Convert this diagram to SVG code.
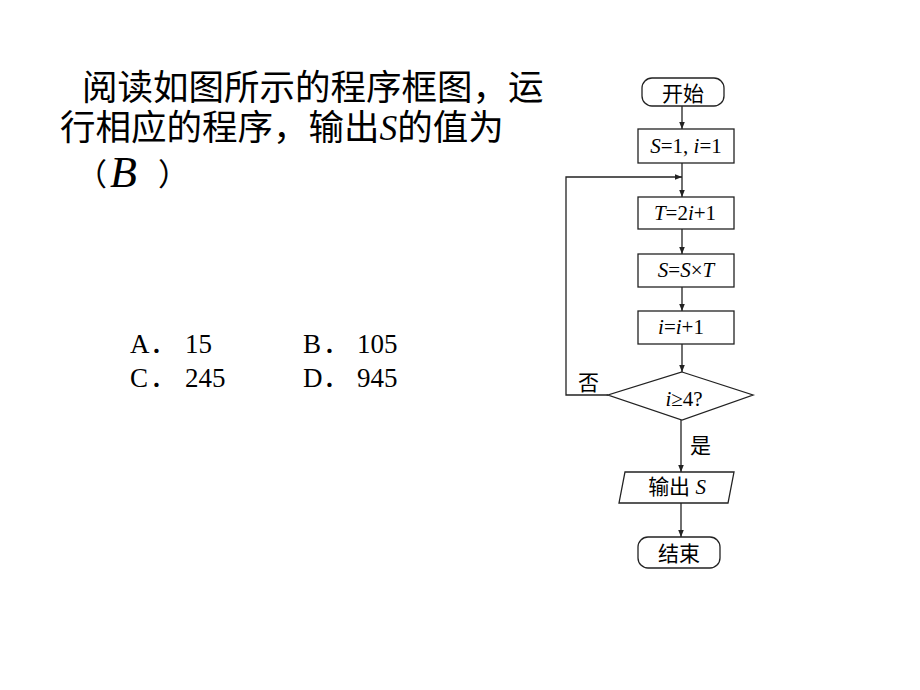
<svg xmlns="http://www.w3.org/2000/svg" width="920" height="690" viewBox="0 0 920 690">
<style>
.t{font-family:"Liberation Serif","Noto Sans CJK SC",serif;fill:#000}
.q{font-size:35.5px}
.o{font-size:27px}
.f{font-size:21px;text-anchor:middle}
.box{fill:#fff;stroke:#222;stroke-width:1.3}
.ln{fill:none;stroke:#222;stroke-width:1.3}
</style>
<defs>
<marker id="ah" viewBox="0 0 10 10" refX="10" refY="5" markerWidth="7" markerHeight="7" markerUnits="userSpaceOnUse" orient="auto">
<path d="M0,1 L10,5 L0,9 Z" fill="#222"/>
</marker>
</defs>
<rect width="920" height="690" fill="#fff"/>
<g id="question">
<text class="t q" x="82" y="100">阅读如图所示的程序框图，运</text>
<text class="t q" x="60" y="140">行相应的程序，输出<tspan font-style="italic">S</tspan>的值为</text>
<text class="t" x="76" y="185" font-size="31">（</text>
<text class="t" x="110" y="187" font-size="44" font-style="italic">B</text>
<text class="t" x="158" y="185" font-size="31">）</text>
</g>
<g id="options">
<text class="t o" x="130" y="353">A<tspan x="150">．</tspan><tspan x="185">15</tspan></text>
<text class="t o" x="303" y="353">B<tspan x="323">．</tspan><tspan x="357">105</tspan></text>
<text class="t o" x="130" y="387">C<tspan x="150">．</tspan><tspan x="185">245</tspan></text>
<text class="t o" x="303" y="387">D<tspan x="323">．</tspan><tspan x="357">945</tspan></text>
</g>
<g id="connectors">
<line class="ln" x1="682" y1="106" x2="682" y2="129" marker-end="url(#ah)"/>
<line class="ln" x1="682" y1="163" x2="682" y2="197" marker-end="url(#ah)"/>
<polyline class="ln" points="608,395 566,395 566,177 682,177" marker-end="url(#ah)"/>
<line class="ln" x1="682" y1="229" x2="682" y2="254" marker-end="url(#ah)"/>
<line class="ln" x1="682" y1="287" x2="682" y2="311" marker-end="url(#ah)"/>
<line class="ln" x1="682" y1="344" x2="682" y2="372" marker-end="url(#ah)"/>
<line class="ln" x1="681" y1="420" x2="681" y2="472" marker-end="url(#ah)"/>
<line class="ln" x1="681" y1="503" x2="681" y2="537" marker-end="url(#ah)"/>
<text class="t" x="578" y="390" font-size="21">否</text>
<text class="t" x="690" y="453" font-size="21">是</text>
</g>
<g id="start">
<rect class="box" x="642" y="78" width="82" height="28" rx="10"/>
<text class="t f" x="683" y="101">开始</text>
</g>
<g id="init">
<rect class="box" x="638" y="129" width="96" height="34"/>
<text class="t f" x="686" y="153"><tspan font-style="italic">S</tspan>=1, <tspan font-style="italic">i</tspan>=1</text>
</g>
<g id="calcT">
<rect class="box" x="638" y="197" width="96" height="32"/>
<text class="t f" x="685" y="220"><tspan font-style="italic">T</tspan>=2<tspan font-style="italic">i</tspan>+1</text>
</g>
<g id="calcS">
<rect class="box" x="638" y="254" width="96" height="33"/>
<text class="t f" x="686" y="277"><tspan font-style="italic">S</tspan>=<tspan font-style="italic">S</tspan>×<tspan font-style="italic">T</tspan></text>
</g>
<g id="incI">
<rect class="box" x="638" y="311" width="96" height="33"/>
<text class="t f" x="681" y="334"><tspan font-style="italic">i</tspan>=<tspan font-style="italic">i</tspan>+1</text>
</g>
<g id="cond">
<polygon class="box" points="682,372 753,395 682,420 608,395"/>
<text class="t f" x="684" y="406"><tspan font-style="italic">i</tspan>≥4?</text>
</g>
<g id="output">
<polygon class="box" points="625,472 734,472 728,503 619,503"/>
<text class="t f" x="677" y="494">输出 <tspan font-style="italic">S</tspan></text>
</g>
<g id="end">
<rect class="box" x="638" y="537" width="82" height="31" rx="10"/>
<text class="t f" x="679" y="561">结束</text>
</g>
</svg>
